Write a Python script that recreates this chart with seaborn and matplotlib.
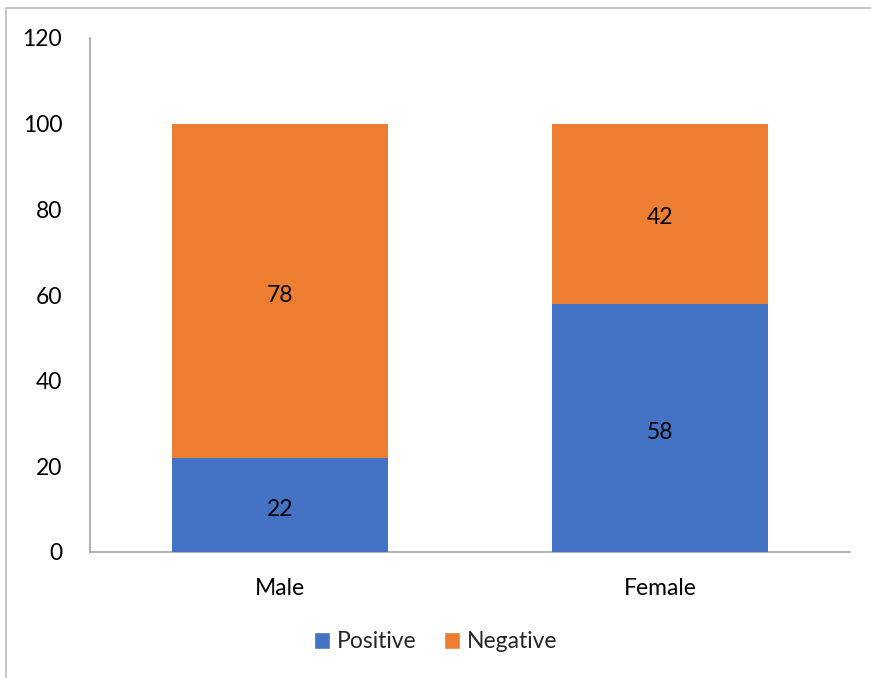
import matplotlib
matplotlib.use("Agg")
import matplotlib.pyplot as plt
from matplotlib.patches import Patch, Rectangle
import pandas as pd
import seaborn as sns

# Survey outcome share (%) by sex
categories = ["Male", "Female"]
positive = [22, 58]
negative = [78, 42]
y_ticks = [0, 20, 40, 60, 80, 100, 120]

BLUE = "#4472C4"
ORANGE = "#ED7D31"
AXIS_GREY = "#A6A6A6"
FS = 16.5

sns.set_theme(style="white")
plt.rcParams["font.family"] = ["Lato", "DejaVu Sans"]

df = pd.DataFrame({"sex": categories, "positive": positive, "negative": negative})
df["total"] = df["positive"] + df["negative"]

fig = plt.figure(figsize=(8.71, 6.78), dpi=100)
ax = fig.add_axes([90 / 871, 1 - 552 / 678, 760 / 871, 514 / 678])

# Stacked bars: full height in orange, positive share over it in blue
sns.barplot(data=df, x="sex", y="total", color=ORANGE, saturation=1,
            width=0.57, order=categories, ax=ax, zorder=2, linewidth=0, edgecolor="none")
sns.barplot(data=df, x="sex", y="positive", color=BLUE, saturation=1,
            width=0.57, order=categories, ax=ax, zorder=3, linewidth=0, edgecolor="none")

for i, (p, n) in enumerate(zip(positive, negative)):
    ax.text(i, p / 2 - 1, f"{p}", ha="center", va="center", fontsize=FS, color="black", zorder=4)
    ax.text(i, p + n / 2 - 1, f"{n}", ha="center", va="center", fontsize=FS, color="black", zorder=4)

ax.set_xlim(-0.5, 1.5)
ax.set_ylim(0, 120)
ax.set_yticks(y_ticks)
ax.set_yticklabels([str(t) for t in y_ticks])
ax.set_xlabel("")
ax.set_ylabel("")
ax.tick_params(axis="both", length=0, labelsize=FS, colors="black")
ax.tick_params(axis="y", pad=20)
ax.tick_params(axis="x", pad=19)

for side in ("top", "right"):
    ax.spines[side].set_visible(False)
for side in ("left", "bottom"):
    ax.spines[side].set_color(AXIS_GREY)
    ax.spines[side].set_linewidth(1.2)

handles = [Patch(facecolor=BLUE, label="Positive"), Patch(facecolor=ORANGE, label="Negative")]
fig.legend(handles=handles, loc="center", bbox_to_anchor=(0.5, 1 - 642 / 678), ncol=2,
           frameon=False, fontsize=FS, handlelength=0.7, handleheight=0.7,
           handletextpad=0.3, columnspacing=1.2)

# Chart frame
fig.patches.append(Rectangle((6 / 871, -0.1), 1.0, 1 - 8 / 678 + 0.1, transform=fig.transFigure,
                             fill=False, edgecolor="#BFBFBF", linewidth=1.2))

fig.savefig("out.png", dpi=100, facecolor="white")
